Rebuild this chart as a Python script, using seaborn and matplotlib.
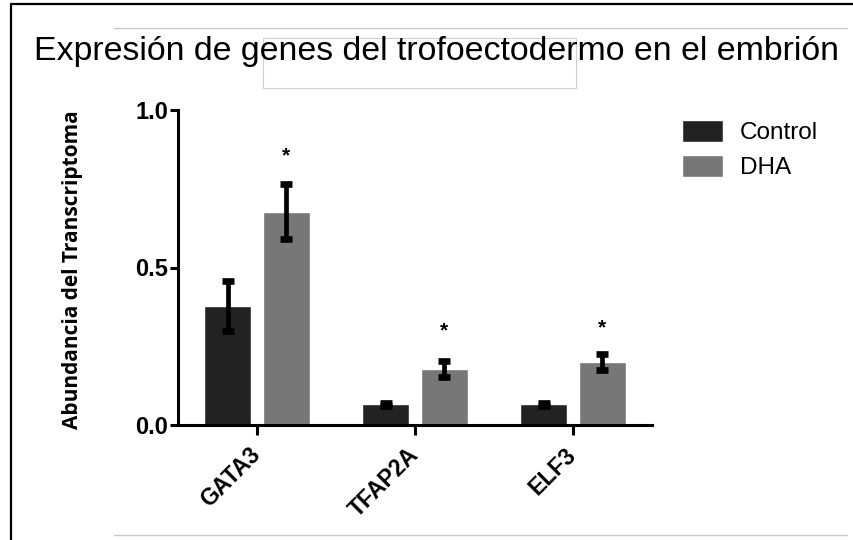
import matplotlib
matplotlib.use("Agg")
import matplotlib.pyplot as plt
from matplotlib.lines import Line2D
from matplotlib.patches import Rectangle
import pandas as pd
import seaborn as sns

# Transcript abundance (mean ± SEM) per gene and treatment
genes = ["GATA3", "TFAP2A", "ELF3"]
groups = ["Control", "DHA"]
control_mean = [0.378, 0.066, 0.066]
control_sem = [0.080, 0.005, 0.005]
dha_mean = [0.677, 0.178, 0.200]
dha_sem = [0.088, 0.026, 0.025]
# height of the significance marks above the DHA bars
star_height = [0.860, 0.305, 0.314]
yticks = [0.0, 0.5, 1.0]
ytick_labels = ["0.0", "0.5", "1.0"]

colors = ["#222222", "#777777"]

df = pd.DataFrame({
    "gene": genes * 2,
    "group": [groups[0]] * 3 + [groups[1]] * 3,
    "value": control_mean + dha_mean,
})

sns.set_theme(style="white")
plt.rcParams["font.family"] = ["Liberation Sans", "DejaVu Sans"]
plt.rcParams["text.color"] = "black"
plt.rcParams["xtick.color"] = "black"
plt.rcParams["ytick.color"] = "black"

W, H = 854, 540
fig = plt.figure(figsize=(W / 100, H / 100), dpi=100)
ax = fig.add_axes([178 / W, 1 - 425 / H, (652 - 178) / W, (425 - 110) / H])

sns.barplot(data=df, x="gene", y="value", hue="group", order=genes,
            hue_order=groups, palette=colors, saturation=1, errorbar=None,
            width=0.74, gap=0.19, ax=ax, zorder=2)

# error bars centred on each seaborn bar
sems = [control_sem, dha_sem]
for cont, sem in zip(ax.containers, sems):
    xs = [p.get_x() + p.get_width() / 2 for p in cont.patches]
    ys = [p.get_height() for p in cont.patches]
    ax.errorbar(xs, ys, yerr=sem, fmt="none", ecolor="black",
                elinewidth=3.4, capsize=4.6, capthick=4.8, zorder=3)

# significance asterisks over the DHA bars
for p, h in zip(ax.containers[1].patches, star_height):
    ax.annotate("*", (p.get_x() + p.get_width() / 2, h), xytext=(0, -1.5),
                textcoords="offset points", ha="center", va="center",
                fontsize=15, fontweight="bold", color="black", zorder=4)

ax.set_xlim(-0.5, 2.5)
ax.set_ylim(0, 1.0)
ax.set_yticks(yticks)
ax.set_yticklabels(ytick_labels, fontsize=17, fontweight="bold")
ax.set_xlabel("")
ax.set_ylabel("")
for s in ["top", "right"]:
    ax.spines[s].set_visible(False)
for s in ["left", "bottom"]:
    ax.spines[s].set_linewidth(2.2)
    ax.spines[s].set_color("black")
ax.tick_params(axis="y", direction="out", length=6, width=2.2, pad=1,
               left=True, color="black")
ax.tick_params(axis="x", direction="out", length=7, width=2.2, pad=12,
               bottom=True, color="black")
for lbl in ax.get_xticklabels():
    lbl.set_rotation(45)
    lbl.set_ha("right")
    lbl.set_va("center")
    lbl.set_rotation_mode("anchor")
    lbl.set_fontsize(16.5)
    lbl.set_fontweight("bold")

handles, labels = ax.get_legend_handles_labels()
ax.legend(handles, labels, loc="upper left", bbox_to_anchor=(682 / W, 1 - 120 / H),
          bbox_transform=fig.transFigure, frameon=False, borderpad=0,
          borderaxespad=0, fontsize=17.5, handlelength=1.69, handleheight=1.0,
          handletextpad=0.7, labelspacing=0.45)

fig.text(72.5 / W, 1 - 270 / H, "Abundancia del Transcriptoma", rotation=90,
         ha="center", va="center", fontsize=15, fontweight="bold",
         family=["Open Sans", "DejaVu Sans"])

fig.text(437 / W, 1 - 60 / H, "Expresión de genes del trofoectodermo en el embrión",
         ha="center", va="baseline", fontsize=24.4, color="black")

# page frame and rules
fig.add_artist(Line2D([11 / W, 11 / W], [0, 1 - 4 / H], color="black", lw=1.6,
                      transform=fig.transFigure))
fig.add_artist(Line2D([11 / W, 1], [1 - 4 / H, 1 - 4 / H], color="black", lw=1.6,
                      transform=fig.transFigure))
for yy in [28, 535]:
    fig.add_artist(Line2D([114 / W, 847 / W], [1 - yy / H, 1 - yy / H],
                          color="#c8c8c8", lw=1.0, transform=fig.transFigure))
fig.add_artist(Rectangle((263 / W, 1 - 88 / H), (576 - 263) / W, 50 / H,
                         fill=False, edgecolor="#d0d0d0", lw=0.8,
                         transform=fig.transFigure))

fig.savefig("out.png", dpi=100)
